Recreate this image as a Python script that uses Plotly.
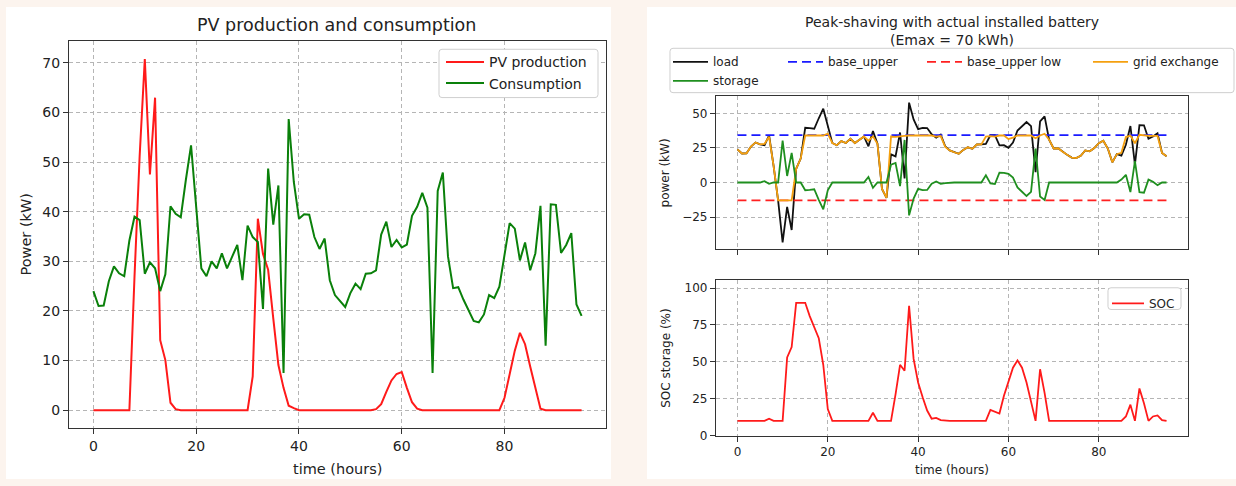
import plotly.graph_objects as go

W, H = 1236, 486
FONT = "DejaVu Sans"
TXT = "#222222"

# ---------------- data ----------------
hours = list(range(96))

pv_production = [0, 0, 0, 0, 0, 0, 0, 0, 27.0, 51.3,
                 70.8, 47.5, 63.0, 14.1, 10.1, 1.5, 0.2, 0, 0, 0,
                 0, 0, 0, 0, 0, 0, 0, 0, 0, 0,
                 0, 6.8, 38.6, 31.5, 28.3, 18.5, 9.1, 4.5, 0.9, 0.4,
                 0, 0, 0, 0, 0, 0, 0, 0, 0, 0,
                 0, 0, 0, 0, 0, 0.2, 1.2, 3.7, 6.0, 7.3,
                 7.7, 4.5, 1.6, 0.3, 0, 0, 0, 0, 0, 0,
                 0, 0, 0, 0, 0, 0, 0, 0, 0, 0,
                 2.5, 7.5, 12.0, 15.6, 13.3, 8.8, 4.3, 0.3, 0, 0,
                 0, 0, 0, 0, 0, 0]

consumption = [24.0, 21.0, 21.1, 26.0, 29.0, 27.6, 27.0, 34.2, 39.0, 38.3,
               27.5, 29.8, 28.6, 24.0, 27.4, 41.1, 39.6, 38.9, 46.5, 53.4,
               41.0, 28.6, 27.0, 30.0, 28.6, 31.6, 28.6, 31.0, 33.3, 26.2,
               37.2, 34.9, 33.9, 20.4, 48.7, 37.4, 45.3, 7.5, 58.7, 46.0,
               38.6, 39.5, 39.4, 34.9, 32.5, 34.6, 26.2, 23.2, 21.9, 20.8,
               23.6, 25.5, 24.4, 27.5, 27.6, 28.2, 35.4, 38.0, 32.9, 34.3,
               32.8, 33.4, 39.2, 41.0, 43.8, 40.8, 7.5, 44.2, 47.9, 31.0,
               24.6, 24.8, 22.3, 20.0, 18.0, 17.7, 19.3, 23.2, 22.6, 24.9,
               31.0, 37.7, 36.6, 30.2, 33.8, 28.2, 31.6, 41.2, 13.0, 41.5,
               41.4, 31.7, 33.3, 35.7, 21.3, 19.0]

load = [24.0, 21.0, 21.1, 26.0, 29.0, 27.6, 27.0, 34.2, 12.0, -13.0,
        -43.3, -17.7, -34.4, 9.9, 17.3, 39.6, 39.4, 38.9, 46.5, 53.4,
        41.0, 28.6, 27.0, 30.0, 28.6, 31.6, 28.6, 31.0, 33.3, 26.2,
        37.2, 28.1, -4.7, -11.1, 20.4, 18.9, 36.2, 3.0, 57.8, 45.6,
        38.6, 39.5, 39.4, 34.9, 32.5, 34.6, 26.2, 23.2, 21.9, 20.8,
        23.6, 25.5, 24.4, 27.5, 27.6, 28.0, 34.2, 34.3, 26.9, 27.0,
        25.1, 28.9, 37.6, 40.7, 43.8, 40.8, 7.5, 44.2, 47.9, 31.0,
        24.6, 24.8, 22.3, 20.0, 18.0, 17.7, 19.3, 23.2, 22.6, 24.9,
        28.5, 30.2, 24.6, 14.6, 20.5, 19.4, 27.3, 40.9, 13.0, 41.5,
        41.4, 31.7, 33.3, 35.7, 21.3, 19.0]

storage = [0, 0, 0, 0, 0, 0, 1.0, -1.0, 0, 0,
           30.3, 4.7, 21.4, 0, 0, -5.6, -5.4, -4.9, -12.5, -19.4,
           -5.6, 0, 0, 0, 0, 0, 0, 0, 0, 4.0,
           -3.8, 0, 0, 0, 12.9, 14.1, -2.6, 30.8, -23.8, -11.6,
           -4.6, -5.5, -5.4, -0.9, 0.7, -1.0, -0.4, 0, 0, 0,
           0, 0, 0, 0, 0, 5.2, -0.7, -1.1, 7.1, 7.0,
           6.3, 3.5, -3.6, -6.7, -9.8, -6.8, 24.5, -10.2, -12.6, 0,
           0, 0, 0, 0, 0, 0, 0, 0, 0, 0,
           0, 0, 0, 0, 0, 2.1, 5.6, -6.9, 15.4, -7.0,
           -7.4, 2.1, 0.5, -2.0, 0, 0]

grid_exchange = [24.0, 21.0, 21.1, 26.0, 29.0, 27.6, 28.0, 33.2, 12.0, -13.0,
                 -13.0, -13.0, -13.0, 9.9, 17.3, 34.0, 34.0, 34.0, 34.0, 34.0,
                 35.4, 28.6, 27.0, 30.0, 28.6, 31.6, 28.6, 31.0, 33.3, 30.2,
                 33.4, 28.1, -4.7, -11.1, 33.3, 33.0, 33.6, 33.8, 34.0, 34.0,
                 34.0, 34.0, 34.0, 34.0, 33.2, 33.6, 25.8, 23.2, 21.9, 20.8,
                 23.6, 25.5, 24.4, 27.5, 27.6, 33.2, 33.5, 33.2, 34.0, 34.0,
                 31.4, 32.4, 34.0, 34.0, 34.0, 34.0, 32.0, 34.0, 35.3, 31.0,
                 24.6, 24.8, 22.3, 20.0, 18.0, 17.7, 19.3, 23.2, 22.6, 24.9,
                 28.5, 30.2, 24.6, 14.6, 20.5, 21.5, 32.9, 34.0, 28.4, 34.5,
                 34.0, 33.8, 33.8, 33.7, 21.3, 19.0]

soc = [10, 10, 10, 10, 10, 10, 10, 11.5, 10, 10,
       10, 53, 60, 90, 90, 90, 81, 73, 66, 48,
       18, 10, 10, 10, 10, 10, 10, 10, 10, 10,
       15.5, 10, 10, 10, 10, 28, 48, 44, 88, 52,
       36, 26, 17, 11.5, 12, 10.5, 10, 10, 10, 10,
       10, 10, 10, 10, 10, 10, 17.5, 16.5, 15, 27,
       37, 46, 51, 46, 36, 22, 10, 45, 29, 10,
       10, 10, 10, 10, 10, 10, 10, 10, 10, 10,
       10, 10, 10, 10, 10, 10, 13, 21, 10, 32,
       22, 10, 13, 13.7, 10.5, 10]

base_x = [0, 95]
base_upper = [34.3, 34.3]
base_upper_low = [-13.0, -13.0]

x_ticks = [0, 20, 40, 60, 80]
left_y_ticks = [0, 10, 20, 30, 40, 50, 60, 70]
power_ticks = [-25, 0, 25, 50]
power_tick_text = ["\u221225", "0", "25", "50"]
soc_ticks = [0, 25, 50, 75, 100]

# ---------------- helpers ----------------
def fx(p):
    return p / W


def fy(p):
    return 1 - p / H


def rrect(x0, y0, x1, y1, r, fill="white", line="#cfcfcf", layer="above"):
    pts = [
        ("M", x0 + r, y0), ("L", x1 - r, y0), ("Q", x1, y0, x1, y0 + r),
        ("L", x1, y1 - r), ("Q", x1, y1, x1 - r, y1), ("L", x0 + r, y1),
        ("Q", x0, y1, x0, y1 - r), ("L", x0, y0 + r), ("Q", x0, y0, x0 + r, y0),
    ]
    s = ""
    for p in pts:
        cmd = p[0]
        coords = p[1:]
        parts = []
        for i in range(0, len(coords), 2):
            parts.append(f"{fx(coords[i]):.6f},{fy(coords[i + 1]):.6f}")
        s += cmd + " " + " ".join(parts) + " "
    s += "Z"
    return dict(type="path", path=s, xref="paper", yref="paper",
                fillcolor=fill, line=dict(color=line, width=1), layer=layer)


def ann(text, xp, yp, size, angle=0):
    return dict(text=text, x=fx(xp), y=fy(yp), xref="paper", yref="paper",
                showarrow=False, xanchor="center", yanchor="middle",
                textangle=angle, font=dict(family=FONT, size=size, color=TXT))


def axis_style(tick_size, domain, rng, tickvals, ticktext=None, showlabels=True, anchor=None):
    d = dict(domain=domain, range=rng, tickvals=tickvals, showline=True, mirror=True,
             linecolor="#333333", linewidth=1.2, ticks="outside", ticklen=5,
             tickcolor="#333333", tickwidth=1, showgrid=True, gridcolor="#b5b5b5",
             gridwidth=0.8, griddash="4px,3px", zeroline=False,
             showticklabels=showlabels,
             tickfont=dict(family=FONT, size=tick_size, color=TXT))
    if ticktext is not None:
        d["ticktext"] = ticktext
    if anchor is not None:
        d["anchor"] = anchor
    return d


fig = go.Figure()

# ---------------- left chart ----------------
fig.add_trace(go.Scatter(x=hours, y=pv_production, mode="lines", name="PV production",
                         line=dict(color="#ff1a1a", width=2), xaxis="x", yaxis="y",
                         legend="legend"))
fig.add_trace(go.Scatter(x=hours, y=consumption, mode="lines", name="Consumption",
                         line=dict(color="#0a800a", width=2), xaxis="x", yaxis="y",
                         legend="legend"))

# ---------------- right top chart ----------------
fig.add_trace(go.Scatter(x=hours, y=load, mode="lines", name="load",
                         line=dict(color="#111111", width=1.8), xaxis="x2", yaxis="y2",
                         legend="legend2"))
fig.add_trace(go.Scatter(x=base_x, y=base_upper, mode="lines", name="base_upper",
                         line=dict(color="#1a1aff", width=1.8, dash="9px,5px"),
                         xaxis="x2", yaxis="y2", legend="legend3"))
fig.add_trace(go.Scatter(x=base_x, y=base_upper_low, mode="lines", name="base_upper low",
                         line=dict(color="#ff2020", width=1.8, dash="9px,5px"),
                         xaxis="x2", yaxis="y2", legend="legend4"))
fig.add_trace(go.Scatter(x=hours, y=grid_exchange, mode="lines", name="grid exchange",
                         line=dict(color="#f5a00f", width=1.8), xaxis="x2", yaxis="y2",
                         legend="legend5"))
fig.add_trace(go.Scatter(x=hours, y=storage, mode="lines", name="storage",
                         line=dict(color="#1f8f1f", width=1.8), xaxis="x2", yaxis="y2",
                         legend="legend2"))

# ---------------- right bottom chart ----------------
fig.add_trace(go.Scatter(x=hours, y=soc, mode="lines", name="SOC",
                         line=dict(color="#ff1a1a", width=1.8), xaxis="x3", yaxis="y3",
                         legend="legend6"))

shapes = [
    dict(type="rect", xref="paper", yref="paper", x0=fx(6), x1=fx(611), y0=fy(486), y1=fy(7),
         fillcolor="white", line=dict(width=0), layer="below"),
    dict(type="rect", xref="paper", yref="paper", x0=fx(647), x1=fx(1236), y0=fy(486), y1=fy(7),
         fillcolor="white", line=dict(width=0), layer="below"),
    rrect(439, 50, 598, 99, 3),
    rrect(670, 49, 1234, 94, 3),
    rrect(1108, 292, 1181, 314, 3),
]

annotations = [
    ann("PV production and consumption", 336, 25, 17.5),
    ann("time (hours)", 337, 476, 14.5),
    ann("Power (kW)", 26, 238, 14.5, -90),
    ann("Peak-shaving with actual installed battery<br>(Emax = 70 kWh)", 952, 31, 14),
    ann("power (kW)", 665, 176, 12, -90),
    ann("SOC storage (%)", 666, 364, 12, -90),
    ann("time (hours)", 952, 477, 12),
]


def leg(xp, yp, size, itemwidth=30):
    return dict(x=fx(xp), y=fy(yp), xanchor="left", yanchor="top", orientation="v",
                bgcolor="rgba(0,0,0,0)", borderwidth=0, itemwidth=itemwidth,
                tracegroupgap=0, font=dict(family=FONT, size=size, color=TXT))


fig.update_layout(
    width=W, height=H,
    margin=dict(l=0, r=0, t=0, b=0),
    paper_bgcolor="#fcf4ee",
    plot_bgcolor="white",
    showlegend=True,
    xaxis=axis_style(14, [fx(69), fx(606)], [-4.75, 99.75], x_ticks, anchor="y"),
    yaxis=axis_style(14, [fy(434), fy(42)], [-3.54, 74.34], left_y_ticks, anchor="x"),
    xaxis2=axis_style(12, [fx(716), fx(1188)], [-4.75, 99.75], x_ticks, showlabels=False, anchor="y2"),
    yaxis2=axis_style(12, [fy(253), fy(97)], [-48.4, 62.9], power_ticks, power_tick_text, anchor="x2"),
    xaxis3=axis_style(12, [fx(716), fx(1188)], [-4.75, 99.75], x_ticks, anchor="y3"),
    yaxis3=axis_style(12, [fy(442), fy(284)], [0, 105.5], soc_ticks, anchor="x3"),
    legend=leg(441, 47, 14, 38),
    legend2=leg(668, 48, 12, 35),
    legend3=leg(783, 48, 12, 35),
    legend4=leg(922, 48, 12, 35),
    legend5=leg(1088, 48, 12, 35),
    legend6=leg(1107, 293, 12, 32),
    shapes=shapes,
    annotations=annotations,
)

fig.write_html("out.html")
